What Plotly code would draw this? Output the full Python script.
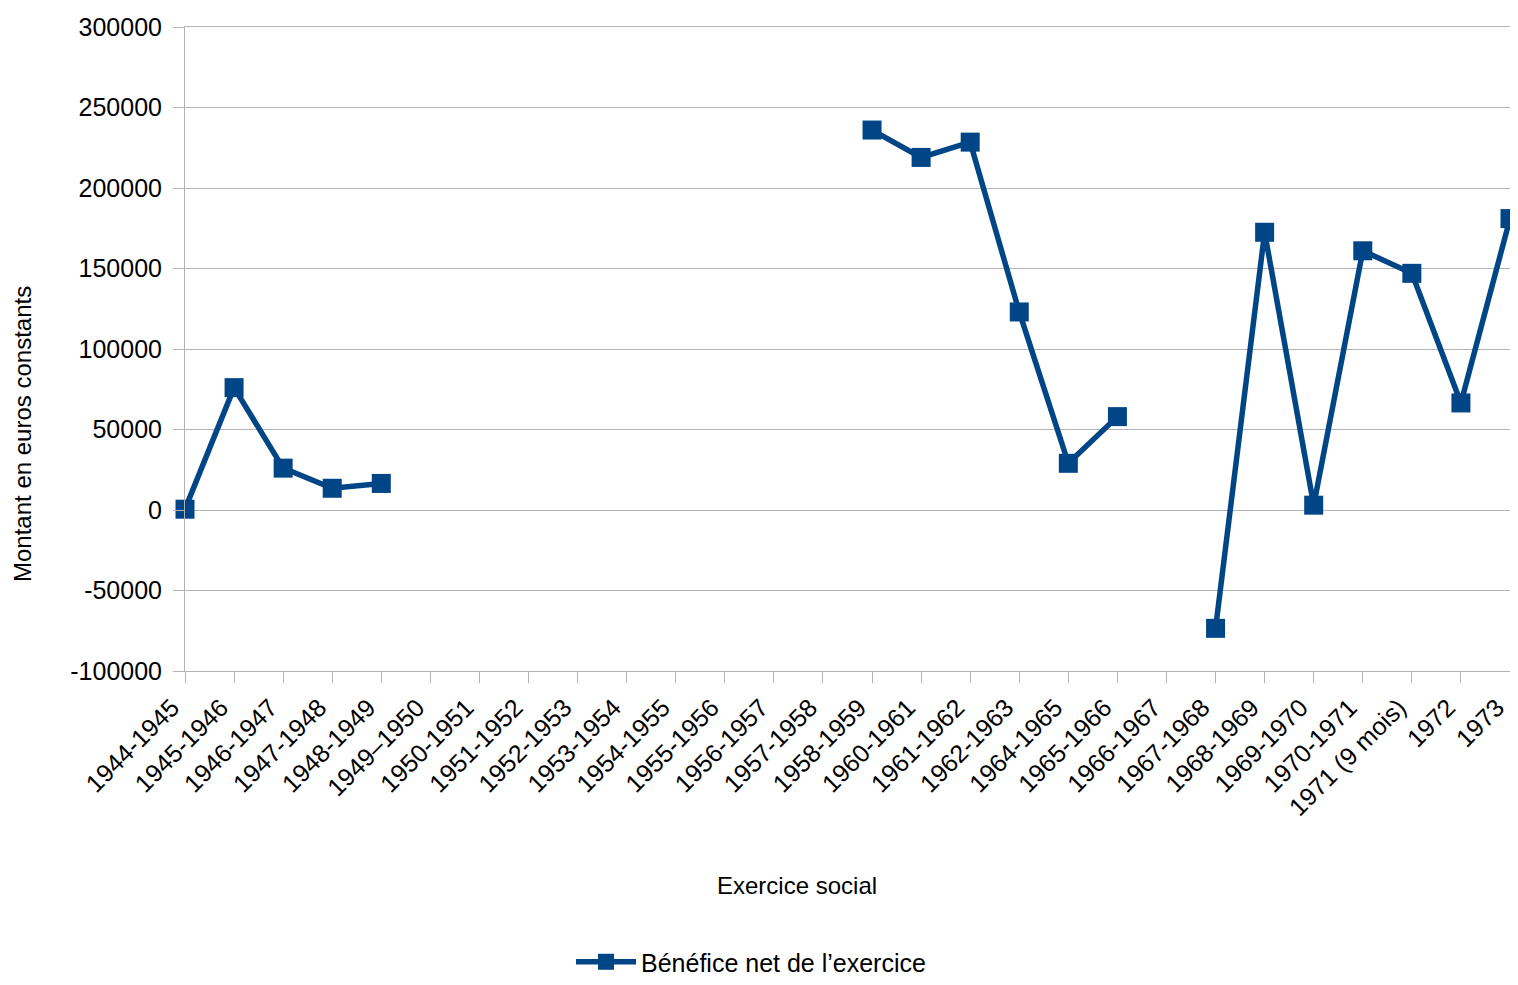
import plotly.graph_objects as go

categories = ["1944-1945", "1945-1946", "1946-1947", "1947-1948", "1948-1949",
              "1949–1950", "1950-1951", "1951-1952", "1952-1953", "1953-1954",
              "1954-1955", "1955-1956", "1956-1957", "1957-1958", "1958-1959",
              "1960-1961", "1961-1962", "1962-1963", "1964-1965", "1965-1966",
              "1966-1967", "1967-1968", "1968-1969", "1969-1970", "1970-1971",
              "1971 (9 mois)", "1972", "1973"]

benefice = [500, 76000, 26000, 13500, 16500,
            None, None, None, None, None,
            None, None, None, None, 236000,
            219000, 228500, 123000, 29000, 58000,
            None, -73500, 172500, 3000, 161000,
            147000, 66500, 181000]

y_tick_vals = [-100000, -50000, 0, 50000, 100000, 150000, 200000, 250000, 300000]
y_tick_text = ["-100000", "-50000", "0", "50000", "100000", "150000", "200000", "250000", "300000"]

series_name = "Bénéfice net de l’exercice"
x_title = "Exercice social"
y_title = "Montant en euros constants"

color = "#004586"
grid = "#b3b3b3"
font_family = "Liberation Sans, Arial, sans-serif"

# The page body has an 8px margin, so the figure is drawn 8px in from the window corner.
OFF = 8
W, H = 1502, 969

fig = go.Figure()
fig.add_trace(go.Scatter(
    x=categories, y=benefice, mode="lines+markers", name=series_name,
    line=dict(color=color, width=5.5),
    marker=dict(symbol="square", size=19, color=color),
    connectgaps=False, cliponaxis=False,
))

fig.update_layout(
    width=W, height=H,
    margin=dict(l=185 - OFF, r=0, t=27 - OFF, b=H - (671 - OFF), autoexpand=False),
    paper_bgcolor="white", plot_bgcolor="white",
    font=dict(family=font_family, size=24, color="black"),
    showlegend=True,
    legend=dict(orientation="h", xref="container", yref="container",
                x=(571 - OFF) / W, xanchor="left", y=1 - (962 - OFF) / H, yanchor="middle",
                font=dict(size=25), itemwidth=60, tracegroupgap=0),
    xaxis=dict(
        type="category", categoryorder="array", categoryarray=categories,
        range=[0, len(categories) - 1], automargin=False,
        tickangle=-45, tickfont=dict(size=25), ticklabelshift=-13,
        ticks="outside", ticklen=11, tickcolor=grid, tickwidth=1,
        showgrid=False, showline=True, linecolor=grid, linewidth=1, mirror=True,
        zeroline=False,
    ),
    yaxis=dict(
        range=[-100000, 300000], tickvals=y_tick_vals, ticktext=y_tick_text,
        tickfont=dict(size=25), automargin=False, ticklabelstandoff=6,
        ticks="outside", ticklen=11, tickcolor=grid, tickwidth=1,
        showgrid=True, gridcolor=grid, gridwidth=1,
        showline=True, linecolor=grid, linewidth=1, mirror=True,
        zeroline=False,
    ),
    annotations=[
        dict(text=x_title, xref="paper", yref="paper", x=(797 - 185) / 1325, y=(671 - 885) / 644,
             xanchor="center", yanchor="middle", showarrow=False, font=dict(size=24)),
        dict(text=y_title, xref="paper", yref="paper", x=(22 - 185) / 1325, y=(671 - 434) / 644,
             xanchor="center", yanchor="middle", showarrow=False, textangle=-90,
             font=dict(size=24)),
    ],
)

fig.write_html("out.html")
